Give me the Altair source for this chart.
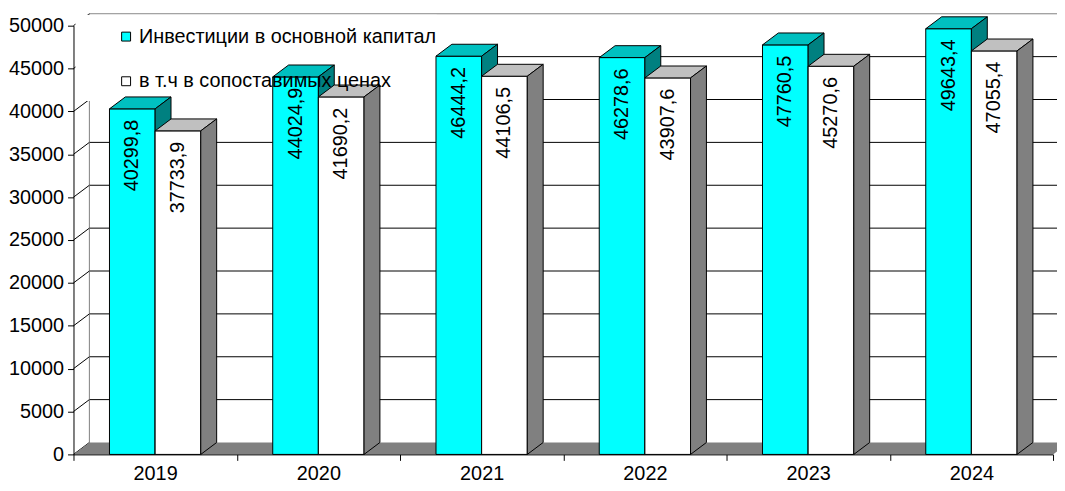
import altair as alt
import pandas as pd

# ---------------- data ----------------
years = ["2019", "2020", "2021", "2022", "2023", "2024"]
invest = [40299.8, 44024.9, 46444.2, 46278.6, 47760.5, 49643.4]
comparable = [37733.9, 41690.2, 44106.5, 43907.6, 45270.6, 47055.4]
series_names = ["Инвестиции в основной капитал", "в т.ч в сопоставимых ценах"]
y_ticks = list(range(0, 50001, 5000))

# ---------------- layout / style ----------------
W, H = 987, 432
N = len(years)
YMAX = 50000
PXX = N / W          # data units per pixel (x)
PXY = YMAX / H       # data units per pixel (y)
DX = 16 * PXX        # 3-D depth, x
DY = 12 * PXY        # 3-D depth, y
BW = 46 * PXX        # bar width
FONT = "Liberation Sans"
FS = 20
LABEL_DROP = 47      # px, value label centre below bar top

front_cols = ["#00FFFF", "#FFFFFF"]
top_cols = ["#00C0C0", "#C0C0C0"]
side_cols = ["#008080", "#808080"]

xs = alt.Scale(domain=[0, N], nice=False, zero=False)
ys = alt.Scale(domain=[0, YMAX], nice=False, zero=False)

x_axis = alt.Axis(values=list(range(N + 1)),
                  labelExpr="datum.value < %d ? %s[datum.value] : ''" % (N, str(years)),
                  labelOffset=W / N / 2, tickSize=6, labelPadding=3,
                  labelFlush=False, labelOverlap=False, zindex=1, title=None)
y_axis = alt.Axis(values=y_ticks, format="d", tickSize=6, labelPadding=4,
                  labelOverlap=False, labelFlush=False, zindex=1, title=None)


def X(f, **kw):
    return alt.X(f, type="quantitative", scale=xs, axis=x_axis, **kw)


def Y(f, **kw):
    return alt.Y(f, type="quantitative", scale=ys, axis=y_axis, **kw)


# ---------------- back wall ----------------
grid_df = pd.DataFrame({"yv": [v + DY for v in y_ticks[1:-1]], "xa": DX, "xb": N + 2 * DX})
grid = alt.Chart(grid_df).mark_rule(color="black", strokeWidth=1).encode(
    x=X("xa"), x2="xb", y=Y("yv"))

top_df = pd.DataFrame({"yv": [YMAX + DY], "xa": [DX], "xb": [N + 2 * DX]})
top_line = alt.Chart(top_df).mark_rule(color="#808080", strokeWidth=1).encode(
    x=X("xa"), x2="xb", y=Y("yv"))

edge_df = pd.DataFrame({"xa": [DX], "ya": [DY], "yb": [YMAX + DY]})
edge = alt.Chart(edge_df).mark_rule(color="#808080", strokeWidth=1).encode(
    x=X("xa"), y=Y("ya"), y2="yb")

diag_df = pd.DataFrame({"xa": 0.0, "xb": DX, "ya": y_ticks, "yb": [v + DY for v in y_ticks]})
diag = alt.Chart(diag_df).mark_rule(color="black", strokeWidth=1).encode(
    x=X("xa"), x2="xb", y=Y("ya"), y2="yb")

floor_df = pd.DataFrame({"y": [0.0, DY], "xa": [0.0, DX], "xb": [N, N + DX]})
floor = alt.Chart(floor_df).mark_area(orient="horizontal", color="#808080").encode(
    y=Y("y"), x=X("xa", stack=None), x2="xb")

# legend background box (covers the wall behind the legend)
box_df = pd.DataFrame({"xa": [2 * PXX], "xb": [366 * PXX],
                       "ya": [YMAX - 76 * PXY], "yb": [YMAX + 11 * PXY]})
box = alt.Chart(box_df).mark_rect(color="white").encode(
    x=X("xa"), x2="xb", y=Y("ya"), y2="yb")

# ---------------- bars ----------------
layers = [grid, top_line, edge, diag, floor, box]
label_rows = []
for s, (name, vals) in enumerate(zip(series_names, [invest, comparable])):
    fr, tp, sd = [], [], []
    for i, v in enumerate(vals):
        x0 = i + 0.5 - BW if s == 0 else i + 0.5
        x1 = x0 + BW
        k = years[i]
        fr.append(dict(series=name, x0=x0, x1=x1, v=v, z=0.0))
        tp += [dict(k=k, y=v, xa=x0, xb=x1), dict(k=k, y=v + DY, xa=x0 + DX, xb=x1 + DX)]
        sd += [dict(k=k, x=x1, ya=0.0, yb=v), dict(k=k, x=x1 + DX, ya=DY, yb=v + DY)]
        label_rows.append(dict(xc=(x0 + x1) / 2, v=v, lab=("%.1f" % v).replace(".", ",")))
    f_layer = alt.Chart(pd.DataFrame(fr)).mark_rect(stroke="black", strokeWidth=1).encode(
        x=X("x0"), x2="x1", y=Y("v"), y2="z:Q",
        color=alt.Color("series:N",
                        scale=alt.Scale(domain=series_names, range=front_cols),
                        legend=alt.Legend(title=None, orient="none", legendX=43, legendY=1,
                                          symbolType="square", symbolSize=81,
                                          symbolStrokeColor="black", symbolStrokeWidth=1,
                                          labelFont=FONT, labelFontSize=FS, labelColor="black",
                                          rowPadding=25, labelOffset=3, padding=0,
                                          labelLimit=600)),
    )
    t_layer = alt.Chart(pd.DataFrame(tp)).mark_area(
        orient="horizontal", fill=top_cols[s], stroke="black", strokeWidth=1).encode(
        y=Y("y"), x=X("xa", stack=None), x2="xb", detail="k:N")
    s_layer = alt.Chart(pd.DataFrame(sd)).mark_area(
        orient="vertical", fill=side_cols[s], stroke="black", strokeWidth=1).encode(
        x=X("x"), y=Y("ya", stack=None), y2="yb", detail="k:N")
    layers += [f_layer, t_layer, s_layer]

labels = alt.Chart(pd.DataFrame(label_rows)).mark_text(
    angle=270, align="center", baseline="middle", font=FONT, fontSize=FS,
    color="black", yOffset=LABEL_DROP).encode(
    x=X("xc"), y=Y("v"), text="lab:N")
layers.append(labels)

chart = alt.layer(*layers).properties(
    width=W, height=H,
    autosize=alt.AutoSizeParams(type="none"),
    padding={"left": 66, "top": 16, "right": 4, "bottom": 27},
).configure_view(stroke=None).configure_axis(
    labelFont=FONT, labelFontSize=FS, labelColor="black",
    tickColor="black", domainColor="black", grid=False,
)

chart.save("out.html", embed_options={"renderer": "svg", "actions": False})
